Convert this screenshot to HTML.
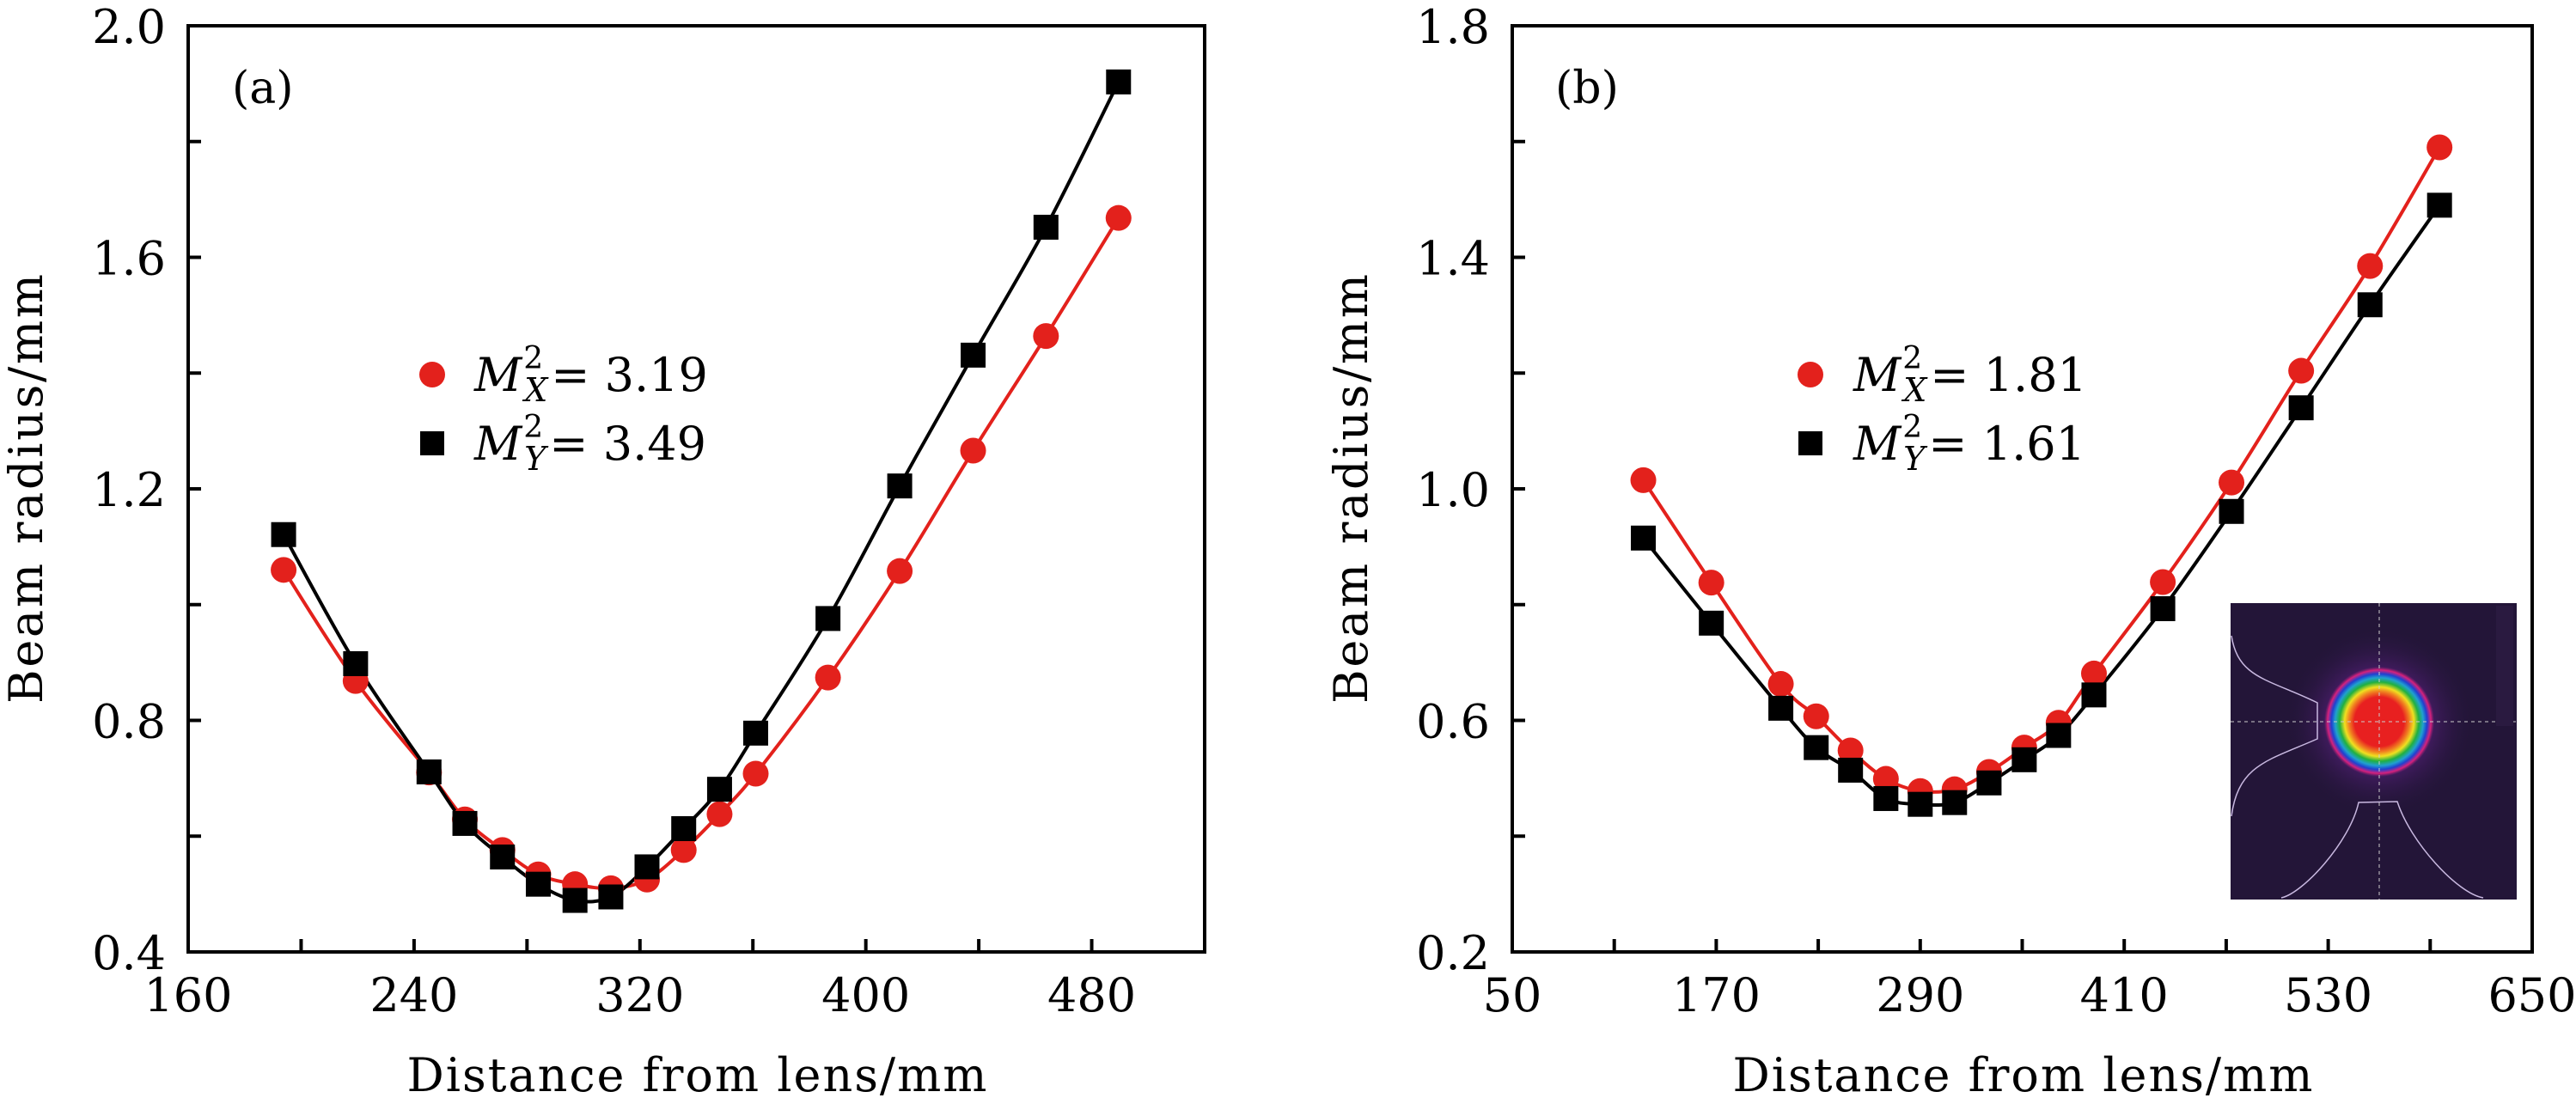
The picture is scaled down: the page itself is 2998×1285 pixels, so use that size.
<!DOCTYPE html>
<html><head><meta charset="utf-8"><style>
html,body{margin:0;padding:0;background:#fff;}
svg{display:block;}
svg text{font-family:"DejaVu Serif","Liberation Serif","Noto Serif CJK SC",serif;}
</style></head><body>
<svg id="fig" width="2998" height="1285" viewBox="0 0 2998 1285" xmlns="http://www.w3.org/2000/svg">
<defs>
<radialGradient id="glow" cx="0.5" cy="0.5" r="0.5">
<stop offset="0" stop-color="#8a2a90" stop-opacity="0.95"/>
<stop offset="0.55" stop-color="#55207a" stop-opacity="0.6"/>
<stop offset="1" stop-color="#231538" stop-opacity="0"/>
</radialGradient>
<radialGradient id="beam" cx="0.5" cy="0.5" r="0.5">
<stop offset="0" stop-color="#e82020"/>
<stop offset="0.45" stop-color="#e82020"/>
<stop offset="0.55" stop-color="#f08020"/>
<stop offset="0.63" stop-color="#f0e020"/>
<stop offset="0.72" stop-color="#20b040"/>
<stop offset="0.8" stop-color="#20a0d0"/>
<stop offset="0.87" stop-color="#2040d0"/>
<stop offset="0.94" stop-color="#d8207a"/>
<stop offset="1" stop-color="#a0207a" stop-opacity="0"/>
</radialGradient>
</defs>
<g id="panelA"></g>
<g id="panelB"></g>
<g id="inset">
<rect x="2596" y="702" width="333" height="345" fill="#231538"/>
<circle cx="2769" cy="840" r="110" fill="url(#glow)"/>
<circle cx="2769" cy="840" r="64" fill="url(#beam)"/>
<line x1="2769" y1="702" x2="2769" y2="1047" stroke="#ccc" stroke-width="1" stroke-dasharray="4,4"/>
<line x1="2596" y1="840" x2="2929" y2="840" stroke="#ccc" stroke-width="1" stroke-dasharray="4,4"/>
<path d="M2597,740 C2605,790 2640,790 2697,818 L2697,860 C2640,885 2605,890 2597,950" fill="none" stroke="#c8b8e0" stroke-width="1.5"/>
<path d="M2655,1045 C2680,1040 2735,980 2745,934 L2790,933 C2805,980 2860,1040 2890,1045" fill="none" stroke="#c8b8e0" stroke-width="1.5"/>
<rect x="2905" y="705" width="20" height="140" fill="#2a1a40"/>
</g>
</svg>
<script>
// Panel (a) data
const aDist = [193.8,219.3,245.3,258,271.3,284,297,309.7,322.5,335.5,348.2,361,386.6,412,438,463.8,489.5];
const aRadiusX = [1.06,0.868,0.71,0.629,0.576,0.534,0.517,0.51,0.525,0.576,0.638,0.708,0.874,1.058,1.266,1.464,1.668];
const aRadiusY = [1.121,0.898,0.711,0.622,0.564,0.517,0.489,0.495,0.547,0.613,0.681,0.778,0.976,1.205,1.431,1.652,1.903];
const aXTicks = ["160","240","320","400","480"];
const aYTicks = ["0.4","0.8","1.2","1.6","2.0"];
// Panel (b) data
const bDist = [127.1,167.1,208,228.8,249,269.8,290,310.2,330.5,351.2,371.4,392.2,432.7,473.1,514.1,554.6,595.5];
const bRadiusX = [1.015,0.838,0.663,0.607,0.548,0.499,0.478,0.481,0.511,0.553,0.596,0.681,0.839,1.011,1.204,1.385,1.59];
const bRadiusY = [0.915,0.768,0.621,0.553,0.514,0.465,0.455,0.458,0.492,0.532,0.574,0.644,0.793,0.961,1.14,1.318,1.49];
const bXTicks = ["50","170","290","410","530","650"];
const bYTicks = ["0.2","0.6","1.0","1.4","1.8"];

const NS = "http://www.w3.org/2000/svg";
function mk(parent, tag, attrs, text){
  const e = document.createElementNS(NS, tag);
  for (const k in attrs) e.setAttribute(k, attrs[k]);
  if (text !== undefined) e.textContent = text;
  parent.appendChild(e);
  return e;
}
const RED = "#e3211c";

function smoothPath(pts){
  let d = "M" + pts[0][0] + "," + pts[0][1];
  for (let i = 0; i < pts.length - 1; i++){
    const p0 = pts[i-1] || pts[i], p1 = pts[i], p2 = pts[i+1], p3 = pts[i+2] || p2;
    const c1x = p1[0] + (p2[0]-p0[0])/6, c1y = p1[1] + (p2[1]-p0[1])/6;
    const c2x = p2[0] - (p3[0]-p1[0])/6, c2y = p2[1] - (p3[1]-p1[1])/6;
    d += " C" + c1x + "," + c1y + " " + c2x + "," + c2y + " " + p2[0] + "," + p2[1];
  }
  return d;
}

function drawPanel(g, cfg){
  const {L, R, T, B, xmin, xmax, ymin, ymax, xTicks, yTicks, xMinorStep, yMinorStep, dist, rx, ry, label, lx, leg, legX, valX, valY, ytitleX, tickRight} = cfg;
  const sx = v => L + (v - xmin) / (xmax - xmin) * (R - L);
  const sy = v => B - (v - ymin) / (ymax - ymin) * (B - T);
  const frame = mk(g, "rect", {x:L, y:T, width:R-L, height:B-T, fill:"none", stroke:"#000", "stroke-width":4});
  
  
  for (let v = xmin + xMinorStep; v < xmax - 1e-6; v += xMinorStep){
    const t = mk(g, "line", {x1:sx(v), x2:sx(v), y1:B, y2:B-15, stroke:"#000", "stroke-width":4});
    
    
  }
  for (let v = ymin + yMinorStep; v < ymax - 1e-6; v += yMinorStep){
    const t = mk(g, "line", {x1:L, x2:L+15, y1:sy(v), y2:sy(v), stroke:"#000", "stroke-width":4});
    
    
  }
  xTicks.forEach(s => {
    const t = mk(g, "text", {x:sx(parseFloat(s)), y:1177, "font-size":54, "text-anchor":"middle"}, s);
    
    
  });
  yTicks.forEach(s => {
    const t = mk(g, "text", {x:tickRight, y:sy(parseFloat(s))+20, "font-size":54, "text-anchor":"end"}, s);
    
    
  });
  const cx = (L+R)/2;
  const xt = mk(g, "text", {x:cx-337, y:1270, "font-size":54, textLength:675, lengthAdjust:"spacing"}, "Distance from lens/mm");
  
  
  const yt = mk(g, "text", {x:-250, y:0, "font-size":54, textLength:500, lengthAdjust:"spacing", transform:"translate("+(ytitleX+20)+","+((T+B)/2)+") rotate(-90)"}, "Beam radius/mm");
  
  
  const pl = mk(g, "text", {x:lx, y:120, "font-size":52}, label);
  
  
  const ptsX = dist.map((d,i)=>[sx(d), sy(rx[i])]);
  const ptsY = dist.map((d,i)=>[sx(d), sy(ry[i])]);
  const lineX = mk(g, "path", {d:smoothPath(ptsX), fill:"none", stroke:RED, "stroke-width":4});
  
  
  const lineY = mk(g, "path", {d:smoothPath(ptsY), fill:"none", stroke:"#000", "stroke-width":4});
  
  
  ptsX.forEach(p => {
    const c = mk(g, "circle", {cx:p[0], cy:p[1], r:15, fill:RED});
    
    
  });
  ptsY.forEach(p => {
    const r = mk(g, "rect", {x:p[0]-14.5, y:p[1]-14.5, width:29, height:29, fill:"#000"});
    
    
  });
  const lg = mk(g, "g", {});
  
  
  const lc = mk(lg, "circle", {cx:leg, cy:436, r:15, fill:RED});
  
  
  const ls = mk(lg, "rect", {x:leg-14, y:502, width:28, height:28, fill:"#000"});
  
  
  [[455,"X",valX],[535,"Y",valY]].forEach(([by,sub,val]) => {
    const t = mk(lg, "text", {x:legX, y:by, "font-size":54});
    
    
    mk(t, "tspan", {"font-style":"italic"}, "M");
    mk(t, "tspan", {"font-size":36, dy:-26, dx:2}, "2");
    mk(t, "tspan", {"font-size":38, "font-style":"italic", dy:38, dx:-22}, sub);
    mk(t, "tspan", {dy:-12, dx:4}, "= " + val);
  });
}

drawPanel(document.getElementById("panelA"), {
  L:219, R:1402, T:30, B:1108, xmin:160, xmax:520, ymin:0.4, ymax:2.0,
  xTicks:aXTicks, yTicks:aYTicks, xMinorStep:40, yMinorStep:0.2,
  dist:aDist, rx:aRadiusX, ry:aRadiusY, label:"(a)", lx:270, leg:503, legX:552,
  valX:"3.19", valY:"3.49", ytitleX:29, tickRight:193
});
drawPanel(document.getElementById("panelB"), {
  L:1760, R:2947, T:30, B:1108, xmin:50, xmax:650, ymin:0.2, ymax:1.8,
  xTicks:bXTicks, yTicks:bYTicks, xMinorStep:60, yMinorStep:0.2,
  dist:bDist, rx:bRadiusX, ry:bRadiusY, label:"(b)", lx:1810, leg:2107, legX:2157,
  valX:"1.81", valY:"1.61", ytitleX:1571, tickRight:1734
});
const svg = document.getElementById("fig");
svg.appendChild(document.getElementById("inset"));
</script>
</body></html>
